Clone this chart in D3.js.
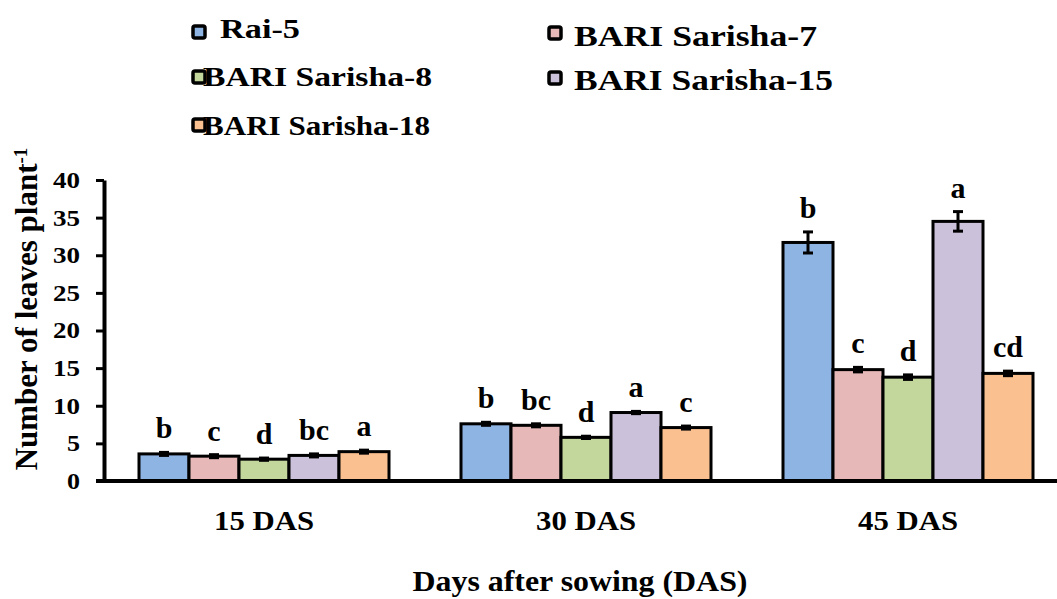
<!DOCTYPE html>
<html>
<head>
<meta charset="utf-8">
<script src="https://cdn.jsdelivr.net/npm/d3@7"></script>
<style>
  body { margin: 0; background: #fff; }
  svg text { font-family: "Liberation Serif", "Times New Roman", serif; font-weight: bold; fill: #000; }
</style>
</head>
<body>
<div id="chart-area"></div>
<script>
// data
const stages = ["15 DAS", "30 DAS", "45 DAS"];
const varieties = ["Rai-5", "BARI Sarisha-7", "BARI Sarisha-8", "BARI Sarisha-15", "BARI Sarisha-18"];
const colors = ["#8EB4E3", "#E6B9B8", "#C3D69B", "#CCC1DA", "#FAC090"];
const leaves15 = [3.6, 3.3, 2.9, 3.4, 3.9];
const leaves30 = [7.6, 7.4, 5.8, 9.1, 7.1];
const leaves45 = [31.7, 14.8, 13.8, 34.5, 14.3];
const err15 = [0.2, 0.2, 0.15, 0.2, 0.2];
const err30 = [0.2, 0.2, 0.15, 0.15, 0.2];
const err45 = [1.4, 0.3, 0.3, 1.3, 0.3];
const letters15 = ["b", "c", "d", "bc", "a"];
const letters30 = ["b", "bc", "d", "a", "c"];
const letters45 = ["b", "c", "d", "a", "cd"];
const yTicks = [0, 5, 10, 15, 20, 25, 30, 35, 40];

const values = [leaves15, leaves30, leaves45];
const errors = [err15, err30, err45];
const letters = [letters15, letters30, letters45];

const W = 1057, H = 599;
const FONT = "'Liberation Serif', 'Times New Roman', serif";

const svg = d3.select("#chart-area")
    .append("svg")
    .attr("width", W)
    .attr("height", H)
    .attr("font-family", FONT);

// scales
const y = d3.scaleLinear().domain([0, 40]).range([481, 180]);
const x0 = d3.scaleBand().domain(stages).range([103, 1069]).padding(0);
const x1 = d3.scaleBand().domain(varieties).range([36, 286]).padding(0);

// flatten into rows
const rows = [];
stages.forEach((s, i) => {
    varieties.forEach((v, j) => {
        rows.push({ stage: s, variety: v, value: values[i][j], err: errors[i][j], letter: letters[i][j], color: colors[j] });
    });
});

// bars
svg.append("g").selectAll("rect")
    .data(rows)
    .enter()
    .append("rect")
    .attr("x", d => x0(d.stage) + x1(d.variety))
    .attr("y", d => y(d.value))
    .attr("width", x1.bandwidth())
    .attr("height", d => y(0) - y(d.value))
    .attr("fill", d => d.color)
    .attr("stroke", "#000")
    .attr("stroke-width", 3);

// error bars
const eb = svg.append("g").attr("stroke", "#000").attr("stroke-width", 3);
rows.forEach(d => {
    const cx = x0(d.stage) + x1(d.variety) + x1.bandwidth() / 2;
    eb.append("line").attr("x1", cx).attr("x2", cx).attr("y1", y(d.value + d.err)).attr("y2", y(d.value - d.err));
    eb.append("line").attr("x1", cx - 5).attr("x2", cx + 5).attr("y1", y(d.value + d.err)).attr("y2", y(d.value + d.err));
    eb.append("line").attr("x1", cx - 5).attr("x2", cx + 5).attr("y1", y(d.value - d.err)).attr("y2", y(d.value - d.err));
});

// significance letters
svg.append("g").selectAll("text")
    .data(rows)
    .enter()
    .append("text")
    .attr("x", d => x0(d.stage) + x1(d.variety) + x1.bandwidth() / 2)
    .attr("y", d => y(d.value + d.err) - 14)
    .attr("text-anchor", "middle")
    .style("font-size", "30px")
    .text(d => d.letter);

// Y axis
const yAxisGroup = svg.append("g")
    .attr("transform", "translate(104,0)")
    .call(d3.axisLeft(y).tickValues(yTicks).tickSize(8).tickSizeOuter(0).tickPadding(16));
yAxisGroup.attr("font-family", FONT);
yAxisGroup.select(".domain").attr("stroke", "#000").attr("stroke-width", 4);
yAxisGroup.selectAll(".tick line").attr("stroke", "#000").attr("stroke-width", 3);
yAxisGroup.selectAll(".tick text")
    .style("font-size", "23px")
    .attr("textLength", d => d >= 10 ? 27 : 13)
    .attr("lengthAdjust", "spacingAndGlyphs")
    .attr("fill", "#000");

// X axis
svg.append("line")
    .attr("x1", 96).attr("x2", W)
    .attr("y1", y(0)).attr("y2", y(0))
    .attr("stroke", "#000").attr("stroke-width", 4);

const xAxisGroup = svg.append("g")
    .attr("transform", "translate(0,505)")
    .call(d3.axisBottom(x0).tickSize(0).tickPadding(0));
xAxisGroup.attr("font-family", FONT);
xAxisGroup.select(".domain").remove();
xAxisGroup.selectAll(".tick text")
    .attr("dy", "0.9em")
    .style("font-size", "28px")
    .attr("textLength", 100)
    .attr("lengthAdjust", "spacingAndGlyphs")
    .attr("fill", "#000");

// axis titles
svg.append("text")
    .attr("x", 580)
    .attr("y", 591)
    .attr("text-anchor", "middle")
    .attr("textLength", 335)
    .attr("lengthAdjust", "spacingAndGlyphs")
    .style("font-size", "29px")
    .text("Days after sowing (DAS)");

const yTitle = svg.append("text")
    .attr("transform", "translate(37,309) rotate(-90)")
    .attr("text-anchor", "middle")
    .style("font-size", "31px");
yTitle.append("tspan").text("Number of leaves plant");
yTitle.append("tspan").attr("baseline-shift", "super").style("font-size", "19px").text("-1");

// legend
const legendPos = [
    { sx: 193, sy: 26, tx: 220, ty: 38, fs: 27, len: 80 },
    { sx: 549, sy: 27, tx: 574, ty: 46, fs: 30, len: 243 },
    { sx: 193, sy: 71, tx: 203, ty: 86, fs: 28, len: 229 },
    { sx: 549, sy: 72, tx: 574, ty: 90, fs: 30, len: 259 },
    { sx: 193, sy: 119, tx: 203, ty: 135, fs: 28, len: 227 }
];
const legend = svg.append("g");
varieties.forEach((v, j) => {
    const p = legendPos[j];
    legend.append("rect")
        .attr("x", p.sx).attr("y", p.sy)
        .attr("width", 12).attr("height", 12)
        .attr("rx", 2)
        .attr("fill", colors[j])
        .attr("stroke", "#000")
        .attr("stroke-width", 3.5);
    legend.append("text")
        .attr("x", p.tx).attr("y", p.ty)
        .attr("textLength", p.len)
        .attr("lengthAdjust", "spacingAndGlyphs")
        .style("font-size", p.fs + "px")
        .text(v);
});
</script>
</body>
</html>
